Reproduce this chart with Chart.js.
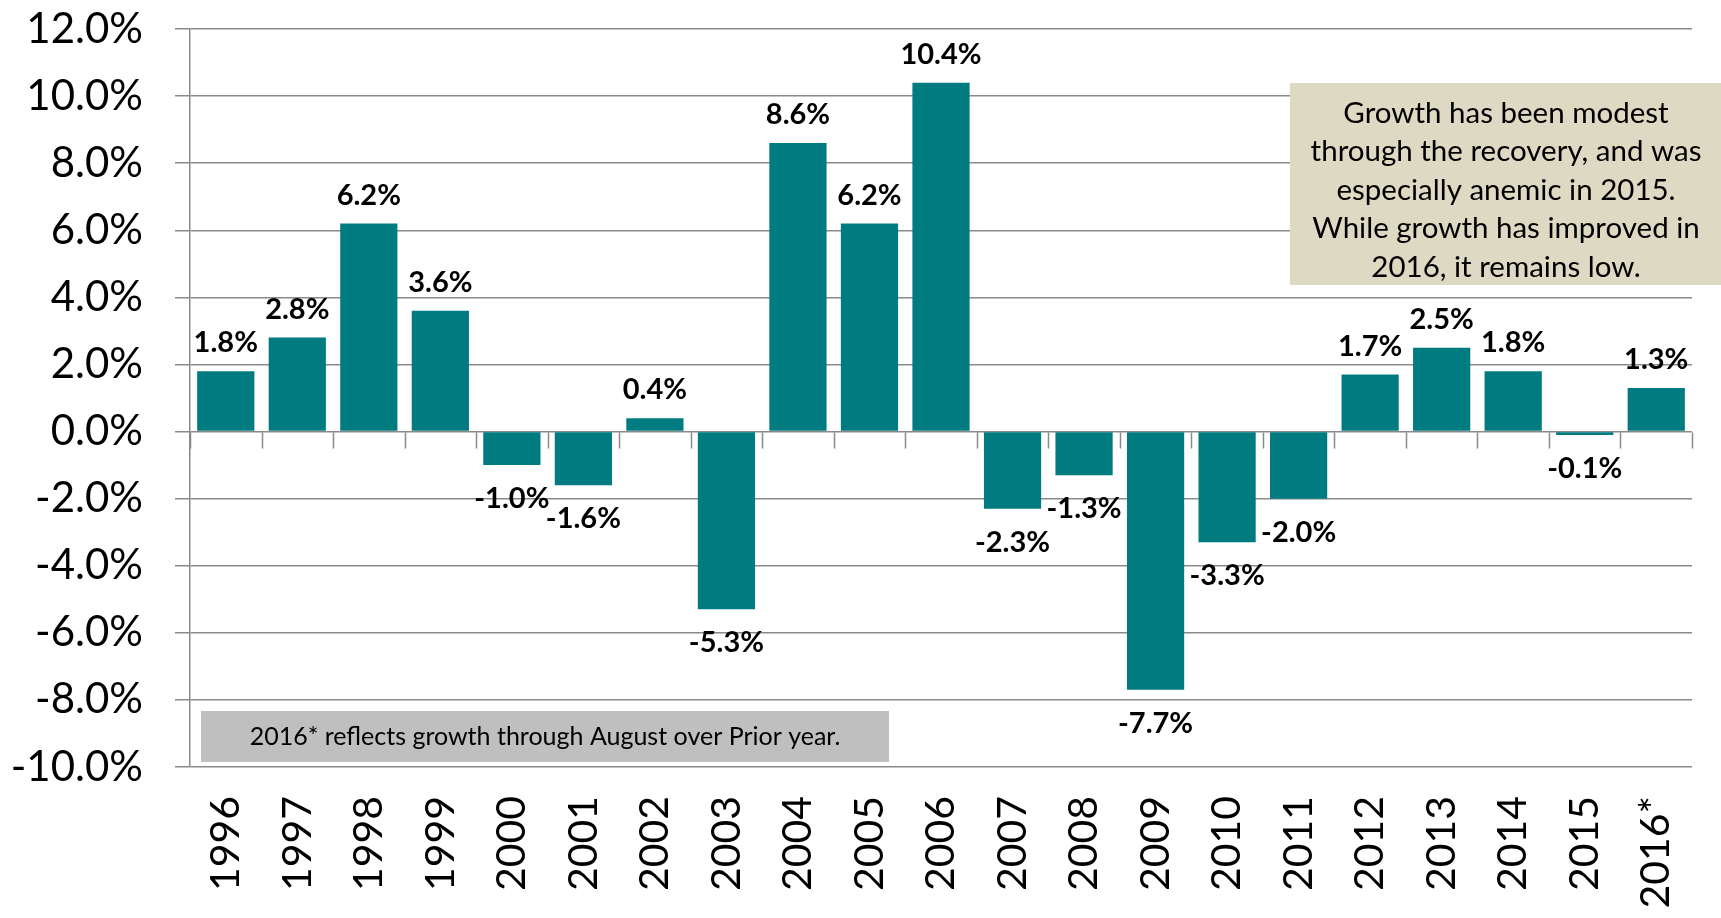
<!DOCTYPE html>
<html>
<head>
<meta charset="utf-8">
<title>Annual growth</title>
<script src="https://cdn.jsdelivr.net/npm/chart.js@4.4.1/dist/chart.umd.min.js"></script>
<style>
  html, body { margin: 0; padding: 0; background: #fff; }
  #wrap { width: 1721px; height: 918px; position: relative; }
</style>
</head>
<body>
<div id="wrap"><canvas id="growthChart"></canvas></div>
<script>
// chart data
const years = ['1996', '1997', '1998', '1999', '2000', '2001', '2002', '2003', '2004', '2005', '2006',
               '2007', '2008', '2009', '2010', '2011', '2012', '2013', '2014', '2015', '2016*'];
const growth = [1.8, 2.8, 6.2, 3.6, -1.0, -1.6, 0.4, -5.3, 8.6, 6.2, 10.4,
                -2.3, -1.3, -7.7, -3.3, -2.0, 1.7, 2.5, 1.8, -0.1, 1.3];
const yMin = -10;
const yMax = 12;
const yStep = 2;

const noteLines = [
    'Growth has been modest',
    'through the recovery, and was',
    'especially anemic in 2015.',
    'While growth has improved in',
    '2016, it remains low.'
];
const footNote = '2016* reflects growth through August over Prior year.';

const FONT = 'Lato, "Open Sans", sans-serif';
const TEAL = '#007c80';
const GRID = '#8a8a8a';

// value labels, zero-line tick marks and the two text boxes
const extrasPlugin = {
    id: 'extras',
    afterDatasetsDraw(chart) {
        const ctx = chart.ctx;
        const x = chart.scales.x;
        const y = chart.scales.y;
        const zeroY = Math.round(y.getPixelForValue(0)) + 0.5;

        // tick marks hanging from the zero line between categories
        ctx.save();
        ctx.strokeStyle = GRID;
        ctx.lineWidth = 1.5;
        ctx.beginPath();
        const half = (x.getPixelForValue(1) - x.getPixelForValue(0)) / 2;
        for (let i = 0; i <= years.length; i++) {
            const px = Math.round(x.getPixelForValue(i) - half) + 0.5;
            ctx.moveTo(px, zeroY);
            ctx.lineTo(px, zeroY + 16);
        }
        ctx.stroke();
        ctx.restore();

        // data labels
        const meta = chart.getDatasetMeta(0);
        ctx.save();
        ctx.fillStyle = '#000';
        ctx.font = 'bold 29px ' + FONT;
        ctx.textAlign = 'center';
        ctx.textBaseline = 'alphabetic';
        meta.data.forEach((bar, i) => {
            const v = growth[i];
            const txt = v.toFixed(1) + '%';
            if (v >= 0) {
                ctx.fillText(txt, bar.x, bar.y - 19);
            } else {
                ctx.fillText(txt, bar.x, bar.y + 43);
            }
        });
        ctx.restore();

        // comment box, top right
        ctx.save();
        ctx.fillStyle = '#ddd9c3';
        ctx.fillRect(1290, 83, 431, 202);
        ctx.fillStyle = '#000';
        ctx.font = '29.5px ' + FONT;
        ctx.textAlign = 'center';
        ctx.textBaseline = 'middle';
        noteLines.forEach((line, i) => {
            ctx.fillText(line, 1506, 113 + i * 38.6);
        });

        // footnote box, bottom left
        ctx.fillStyle = '#bfbfbf';
        ctx.fillRect(201, 711, 688, 51);
        ctx.fillStyle = '#000';
        ctx.font = '25px ' + FONT;
        ctx.fillText(footNote, 545, 737);
        ctx.restore();
    }
};

const ctx = document.getElementById('growthChart').getContext('2d');
new Chart(ctx, {
    type: 'bar',
    data: {
        labels: years,
        datasets: [{
            data: growth,
            backgroundColor: TEAL,
            barPercentage: 0.8,
            categoryPercentage: 1.0
        }]
    },
    options: {
        responsive: true,
        maintainAspectRatio: false,
        animation: false,
        layout: { padding: { top: 29, right: 29, left: 0, bottom: 0 } },
        plugins: {
            legend: { display: false },
            tooltip: { enabled: false }
        },
        scales: {
            x: {
                grid: { display: false, drawTicks: false },
                border: { display: false },
                ticks: {
                    color: '#000',
                    font: { family: FONT, size: 41 },
                    minRotation: 90,
                    maxRotation: 90,
                    padding: 29,
                    autoSkip: false
                },
                afterFit(scale) {
                    scale.height = 151;
                    scale.paddingLeft = 0;
                    scale.paddingRight = 0;
                }
            },
            y: {
                min: yMin,
                max: yMax,
                grid: { color: GRID, lineWidth: 1.5, tickLength: 15 },
                border: { display: true, color: GRID, width: 1.5 },
                ticks: {
                    stepSize: yStep,
                    color: '#000',
                    font: { family: FONT, size: 42 },
                    padding: 32,
                    callback: (v) => Number(v).toFixed(1) + '%'
                },
                afterFit(scale) {
                    scale.width = 190;
                    scale.paddingTop = 0;
                    scale.paddingBottom = 0;
                }
            }
        }
    },
    plugins: [extrasPlugin]
});
</script>
</body>
</html>
